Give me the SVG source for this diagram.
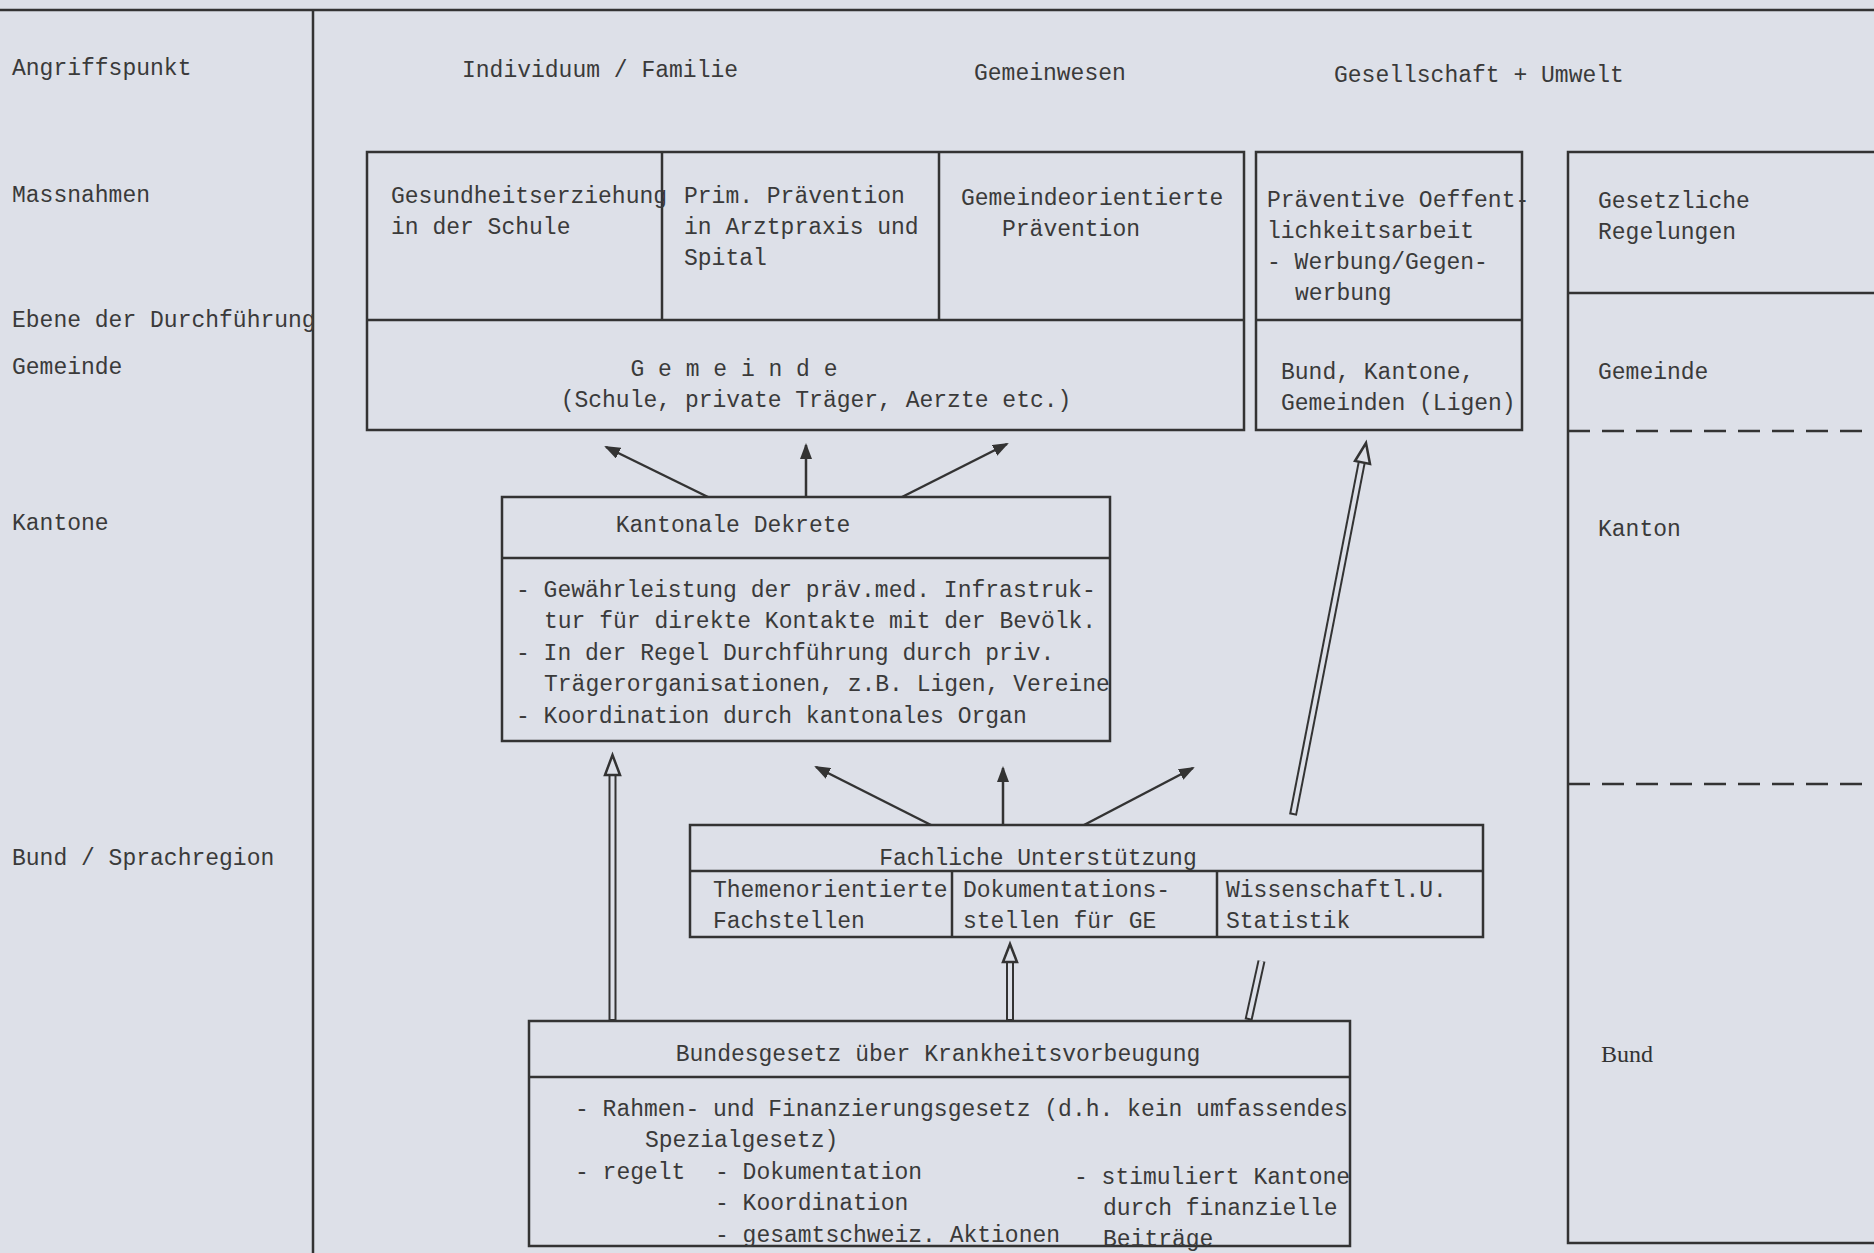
<svg xmlns="http://www.w3.org/2000/svg" width="1874" height="1253" viewBox="0 0 1874 1253">
<style>
text{font-family:"Liberation Mono","DejaVu Sans Mono",monospace;font-size:23px;fill:#3a3a3a}
.m{text-anchor:middle}
.serif{font-family:"Liberation Serif","DejaVu Serif",serif;font-size:24px;fill:#333}
.ln{stroke:#333;stroke-width:2.5;fill:none}
.box{stroke:#333;stroke-width:2.5;fill:none}
.dash{stroke:#333;stroke-width:2.5;stroke-dasharray:22 12;fill:none}
.arr{stroke:#333;stroke-width:2.5;fill:none;marker-end:url(#ah)}
.dbo{stroke:#333;stroke-width:8;fill:none}
.dbi{stroke:#dde0e8;stroke-width:4;fill:none}
.hh{fill:#dde0e8;stroke:#333;stroke-width:2.5}
</style>
<defs>
<marker id="ah" markerWidth="16" markerHeight="12" refX="14" refY="6" orient="auto" markerUnits="userSpaceOnUse">
<path d="M0,0 L16,6 L0,12 Z" fill="#333"/>
</marker>
</defs>
<rect x="0" y="0" width="1874" height="1253" fill="#dde0e8"/>
<g id="frame">
<line class="ln" x1="0" y1="10" x2="1874" y2="10"/>
<line class="ln" x1="313" y1="10" x2="313" y2="1253"/>
<text x="12" y="75">Angriffspunkt</text>
<text x="12" y="202">Massnahmen</text>
<text x="12" y="327">Ebene der Durchführung</text>
<text x="12" y="374">Gemeinde</text>
<text x="12" y="530">Kantone</text>
<text x="12" y="865">Bund / Sprachregion</text>
<text x="462" y="77">Individuum / Familie</text>
<text x="974" y="80">Gemeinwesen</text>
<text x="1334" y="82">Gesellschaft + Umwelt</text>
</g>
<g id="massnahmen-gemeinde">
<rect class="box" x="367" y="152" width="877" height="278"/>
<line class="ln" x1="367" y1="320" x2="1244" y2="320"/>
<line class="ln" x1="662" y1="152" x2="662" y2="320"/>
<line class="ln" x1="939" y1="152" x2="939" y2="320"/>
<text x="391" y="203">Gesundheitserziehung</text>
<text x="391" y="234">in der Schule</text>
<text x="684" y="203">Prim. Prävention</text>
<text x="684" y="234">in Arztpraxis und</text>
<text x="684" y="265">Spital</text>
<text x="961" y="205">Gemeindeorientierte</text>
<text x="1002" y="236">Prävention</text>
<text class="m" x="734" y="376">G e m e i n d e</text>
<text class="m" x="816" y="407">(Schule, private Träger, Aerzte etc.)</text>
</g>
<g id="oeffentlichkeit">
<rect class="box" x="1256" y="152" width="266" height="278"/>
<line class="ln" x1="1256" y1="320" x2="1522" y2="320"/>
<text x="1267" y="207">Präventive Oeffent-</text>
<text x="1267" y="238">lichkeitsarbeit</text>
<text x="1267" y="269">- Werbung/Gegen-</text>
<text x="1295" y="300">werbung</text>
<text x="1281" y="379">Bund, Kantone,</text>
<text x="1281" y="410">Gemeinden (Ligen)</text>
</g>
<g id="gesetzliche">
<path class="ln" d="M1890,152 H1568 V1243 H1890"/>
<line class="ln" x1="1568" y1="293" x2="1874" y2="293"/>
<line class="dash" x1="1568" y1="431" x2="1874" y2="431"/>
<line class="dash" x1="1568" y1="784" x2="1874" y2="784"/>
<text x="1598" y="208">Gesetzliche</text>
<text x="1598" y="239">Regelungen</text>
<text x="1598" y="379">Gemeinde</text>
<text x="1598" y="536">Kanton</text>
<text class="serif" x="1601" y="1062">Bund</text>
</g>
<g id="kantonale">
<rect class="box" x="502" y="497" width="608" height="244"/>
<line class="ln" x1="502" y1="558" x2="1110" y2="558"/>
<text class="m" x="733" y="532">Kantonale Dekrete</text>
<text x="516" y="597">- Gewährleistung der präv.med. Infrastruk-</text>
<text x="544" y="628">tur für direkte Kontakte mit der Bevölk.</text>
<text x="516" y="660">- In der Regel Durchführung durch priv.</text>
<text x="544" y="691">Trägerorganisationen, z.B. Ligen, Vereine</text>
<text x="516" y="723">- Koordination durch kantonales Organ</text>
</g>
<g id="fachliche">
<rect class="box" x="690" y="825" width="793" height="112"/>
<line class="ln" x1="690" y1="871" x2="1483" y2="871"/>
<line class="ln" x1="952" y1="871" x2="952" y2="937"/>
<line class="ln" x1="1217" y1="871" x2="1217" y2="937"/>
<text class="m" x="1038" y="865">Fachliche Unterstützung</text>
<text x="713" y="897">Themenorientierte</text>
<text x="713" y="928">Fachstellen</text>
<text x="963" y="897">Dokumentations-</text>
<text x="963" y="928">stellen für GE</text>
<text x="1226" y="897">Wissenschaftl.U.</text>
<text x="1226" y="928">Statistik</text>
</g>
<g id="bundesgesetz">
<rect class="box" x="529" y="1021" width="821" height="225"/>
<line class="ln" x1="529" y1="1077" x2="1350" y2="1077"/>
<text class="m" x="938" y="1061">Bundesgesetz über Krankheitsvorbeugung</text>
<text x="575" y="1116">- Rahmen- und Finanzierungsgesetz (d.h. kein umfassendes</text>
<text x="645" y="1147">Spezialgesetz)</text>
<text x="575" y="1179">- regelt</text>
<text x="715" y="1179">- Dokumentation</text>
<text x="715" y="1210">- Koordination</text>
<text x="715" y="1242">- gesamtschweiz. Aktionen</text>
<text x="1074" y="1184">- stimuliert Kantone</text>
<text x="1103" y="1215">durch finanzielle</text>
<text x="1103" y="1246">Beiträge</text>
</g>
<g id="connectors">
<line class="arr" x1="708" y1="497" x2="606" y2="447"/>
<line class="arr" x1="806" y1="497" x2="806" y2="445"/>
<line class="arr" x1="902" y1="497" x2="1007" y2="444"/>
<line class="arr" x1="931" y1="825" x2="816" y2="767"/>
<line class="arr" x1="1003" y1="825" x2="1003" y2="768"/>
<line class="arr" x1="1084" y1="825" x2="1193" y2="768"/>
<line class="dbo" x1="612.5" y1="1021" x2="612.5" y2="772"/>
<line class="dbi" x1="612.5" y1="1019" x2="612.5" y2="772"/>
<polygon class="hh" points="612.5,755 605,775 620,775"/>
<line class="dbo" x1="1010" y1="1021" x2="1010" y2="960"/>
<line class="dbi" x1="1010" y1="1019" x2="1010" y2="960"/>
<polygon class="hh" points="1010,944 1003,962 1017,962"/>
<line class="dbo" x1="1293" y1="815" x2="1362" y2="461"/>
<line class="dbi" x1="1293.4" y1="813" x2="1362" y2="461"/>
<polygon class="hh" points="1366,443 1355,461 1370,464"/>
<line class="dbo" x1="1248.5" y1="1020" x2="1261.5" y2="961"/>
<line class="dbi" x1="1248.9" y1="1018" x2="1261.5" y2="961"/>
</g>
</svg>
